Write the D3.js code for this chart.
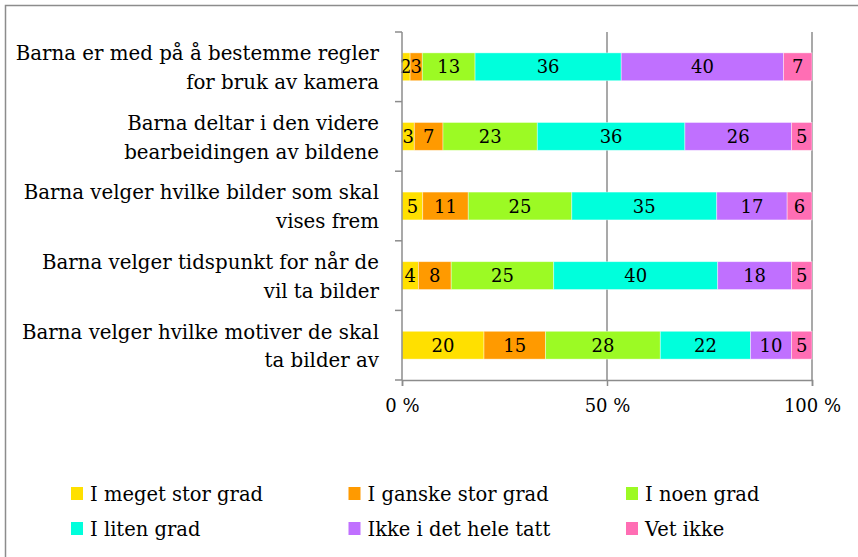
<!DOCTYPE html>
<html>
<head>
<meta charset="utf-8">
<script src="https://cdn.jsdelivr.net/npm/d3@7"></script>
<style>
  body { margin: 0; background: #fff; }
  text { font-family: "DejaVu Serif", serif; fill: #000; }
</style>
</head>
<body>
<script>
let categories = [
  ['Barna er med på å bestemme regler', 'for bruk av kamera'],
  ['Barna deltar i den videre', 'bearbeidingen av bildene'],
  ['Barna velger hvilke bilder som skal', 'vises frem'],
  ['Barna velger tidspunkt for når de', 'vil ta bilder'],
  ['Barna velger hvilke motiver de skal', 'ta bilder av']
]
let series = ['I meget stor grad', 'I ganske stor grad', 'I noen grad', 'I liten grad', 'Ikke i det hele tatt', 'Vet ikke']
let meget = [2, 3, 5, 4, 20]
let ganske = [3, 7, 11, 8, 15]
let noen = [13, 23, 25, 25, 28]
let liten = [36, 36, 35, 40, 22]
let ikke = [40, 26, 17, 18, 10]
let vet = [7, 5, 6, 5, 5]
let tickValues = [0, 0.5, 1]
let tickLabels = ['0 %', '50 %', '100 %']
let colors = ['#ffe000', '#ff9a00', '#9cfa24', '#00ffdc', '#c070ff', '#ff6eb4']

let width = 858, height = 557
let margin = { top: 32, left: 402, right: 46, bottom: 177 }

let rows = categories.map((c, i) => ({
  key: i,
  [series[0]]: meget[i], [series[1]]: ganske[i], [series[2]]: noen[i],
  [series[3]]: liten[i], [series[4]]: ikke[i], [series[5]]: vet[i]
}))

let stacked = d3.stack().keys(series).offset(d3.stackOffsetExpand)(rows)

let svg = d3.select('body').append('svg')
  .attr('width', width).attr('height', height)

// frame
svg.append('rect')
  .attr('x', 5.5).attr('y', 5.5)
  .attr('width', width + 10).attr('height', height + 10)
  .attr('fill', 'none').attr('stroke', '#8c8c8c').attr('stroke-width', 1.5)

let x = d3.scaleLinear().domain([0, 1]).range([margin.left, width - margin.right])
let y = d3.scaleBand().domain(d3.range(categories.length))
  .range([margin.top, height - margin.bottom])
  .paddingInner(0.6).paddingOuter(0.3)

// gridlines
svg.append('g').selectAll('line')
  .data(tickValues.slice(1))
  .enter().append('line')
  .attr('x1', d => x(d)).attr('x2', d => x(d))
  .attr('y1', margin.top).attr('y2', height - margin.bottom)
  .attr('stroke', '#8c8c8c').attr('stroke-width', 1.5)

// bars
let layer = svg.append('g').selectAll('g')
  .data(stacked).enter().append('g')
  .attr('fill', (d, i) => colors[i])

layer.selectAll('rect')
  .data(d => d)
  .enter().append('rect')
  .attr('x', d => x(d[0]))
  .attr('y', (d, i) => y(i))
  .attr('width', d => x(d[1]) - x(d[0]))
  .attr('height', y.bandwidth())
  .attr('stroke', '#fff').attr('stroke-opacity', 0.5).attr('stroke-width', 0.8)

layer.selectAll('text')
  .data((d, k) => d.map(v => ({ v, k })))
  .enter().append('text')
  .attr('x', d => (x(d.v[0]) + x(d.v[1])) / 2)
  .attr('y', (d, i) => y(i) + y.bandwidth() / 2)
  .attr('dy', '0.37em')
  .attr('text-anchor', 'middle')
  .style('font-size', '18px')
  .text(d => d.v.data[series[d.k]])

// x axis
let xAxis = svg.append('g')
  .attr('transform', 'translate(0,' + (height - margin.bottom) + ')')
  .call(d3.axisBottom(x).tickValues(tickValues).tickFormat((d, i) => tickLabels[i]).tickSize(6).tickPadding(13))
xAxis.select('.domain').attr('stroke', '#8c8c8c').attr('stroke-width', 1.5)
xAxis.selectAll('.tick line').attr('stroke', '#8c8c8c').attr('stroke-width', 1.5)
xAxis.selectAll('.tick text').style('font-size', '18px').style('font-family', '"DejaVu Serif", serif').attr('fill', '#000')

// y axis
let yAxis = svg.append('g')
let yEdges = d3.range(categories.length + 1).map(i => margin.top + i * y.step())
yAxis.append('line')
  .attr('x1', margin.left).attr('x2', margin.left)
  .attr('y1', margin.top).attr('y2', height - margin.bottom)
  .attr('stroke', '#8c8c8c').attr('stroke-width', 1.5)
yAxis.selectAll('.ytick').data(yEdges).enter().append('line')
  .attr('x1', margin.left - 7).attr('x2', margin.left)
  .attr('y1', d => d).attr('y2', d => d)
  .attr('stroke', '#8c8c8c').attr('stroke-width', 1.5)

let labels = yAxis.selectAll('.ylabel').data(categories).enter().append('text')
  .attr('text-anchor', 'end')
  .attr('y', (d, i) => y(i) + y.bandwidth() / 2)
  .style('font-size', '19.8px')
labels.selectAll('tspan').data(d => d).enter().append('tspan')
  .attr('x', 379)
  .attr('dy', (d, i) => i == 0 ? '-0.33em' : '1.45em')
  .text(d => d)

// legend
let legend = svg.append('g').selectAll('g')
  .data(series).enter().append('g')
  .attr('transform', (d, i) => 'translate(' + (71 + (i % 3) * 277.5) + ',' + (494 + Math.floor(i / 3) * 35) + ')')
legend.append('rect')
  .attr('y', -7).attr('width', 12).attr('height', 13)
  .attr('fill', (d, i) => colors[i])
legend.append('text')
  .attr('x', 19)
  .attr('dy', '0.36em')
  .style('font-size', '19.5px')
  .text(d => d)
</script>
</body>
</html>
